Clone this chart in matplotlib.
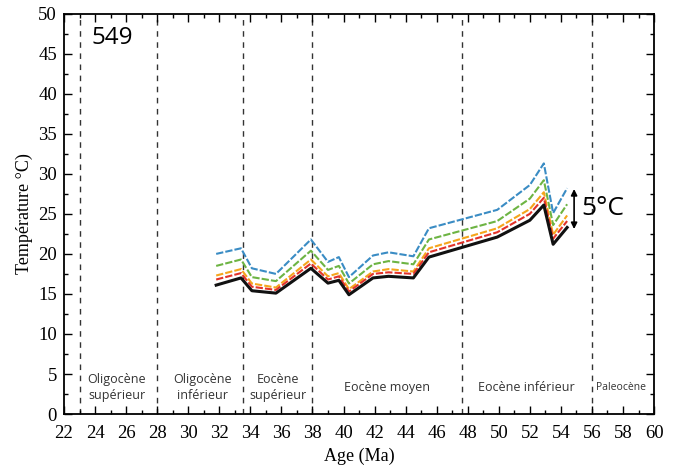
import matplotlib
matplotlib.use("Agg")
import matplotlib.pyplot as plt
from matplotlib.ticker import MultipleLocator

ages = [31.8, 33.4, 34.1, 35.65, 37.9, 39.0, 39.7, 40.35, 41.9, 42.9, 44.5, 45.5, 49.9, 52.0, 52.9, 53.5, 54.4]
t_blue = [20.0, 20.7, 18.2, 17.5, 21.8, 19.0, 19.6, 17.1, 19.8, 20.2, 19.7, 23.2, 25.5, 28.6, 31.3, 25.1, 28.2]
t_green = [18.5, 19.3, 17.1, 16.6, 20.4, 18.0, 18.5, 16.3, 18.7, 19.1, 18.7, 21.8, 24.1, 26.9, 29.2, 23.6, 26.2]
t_orange = [17.3, 18.1, 16.3, 15.8, 19.3, 17.2, 17.6, 15.6, 17.8, 18.1, 17.8, 20.7, 23.2, 25.6, 27.7, 22.4, 24.8]
t_red = [16.8, 17.6, 15.9, 15.5, 18.8, 16.8, 17.2, 15.3, 17.5, 17.7, 17.5, 20.2, 22.7, 25.0, 27.0, 21.9, 24.1]
t_black = [16.1, 17.0, 15.4, 15.1, 18.2, 16.35, 16.7, 14.9, 17.0, 17.2, 17.0, 19.6, 22.1, 24.2, 26.1, 21.2, 23.3]

boundaries = [23.0, 28.0, 33.5, 38.0, 47.6, 56.0]
period_labels = ["Oligocène\nsupérieur", "Oligocène\ninférieur", "Eocène\nsupérieur",
                 "Eocène moyen", "Eocène inférieur", "Paleocène"]
period_x = [25.4, 30.9, 35.8, 42.8, 51.8, 57.9]

serif = "Liberation Serif"
sans = "Open Sans"

fig = plt.figure(figsize=(6.75, 4.7), dpi=100)
ax = fig.add_axes([0.0948, 0.119, 0.8742, 0.852])

for b in boundaries:
    ax.axvline(b, color="#333333", lw=1.0, ls=(0, (4, 4)), zorder=1)

ax.plot(ages, t_blue, color="#3a8cc4", lw=1.5, ls=(0, (3.5, 1)), zorder=3)
ax.plot(ages, t_green, color="#6db443", lw=1.5, ls=(0, (3.5, 1)), zorder=3)
ax.plot(ages, t_orange, color="#f5a51c", lw=1.5, ls=(0, (3.5, 1)), zorder=3)
ax.plot(ages, t_red, color="#e2332a", lw=1.5, ls=(0, (3.5, 1)), zorder=3)
ax.plot(ages, t_black, color="#111111", lw=2.2, zorder=4)

ax.set_xlim(22, 60)
ax.set_ylim(0, 50)
ax.xaxis.set_major_locator(MultipleLocator(2))
ax.xaxis.set_minor_locator(MultipleLocator(1))
ax.yaxis.set_major_locator(MultipleLocator(5))
ax.yaxis.set_minor_locator(MultipleLocator(2.5))
ax.tick_params(which="both", direction="in", top=True, right=True, width=1.0)
ax.tick_params(which="major", length=6, labelsize=13.5)
ax.tick_params(axis="x", which="major", pad=8)
ax.tick_params(axis="y", which="major", pad=5)
ax.tick_params(which="minor", length=3)
for lab in ax.get_xticklabels() + ax.get_yticklabels():
    lab.set_family(serif)
for s in ax.spines.values():
    s.set_linewidth(1.3)

ax.set_xlabel("Age (Ma)", family=serif, fontsize=13, labelpad=4)
ax.set_ylabel("Température °C)", family=serif, fontsize=13, labelpad=4)

ax.text(23.8, 46.9, "549", family=sans, fontsize=17.5, ha="left", va="center")

for lab, x in zip(period_labels, period_x):
    fs = 7.5 if lab == "Paleocène" else 9
    ax.text(x, 3.3, lab, family=sans, fontsize=fs, ha="center", va="center",
            color="#333333", linespacing=1.3)

ax.annotate("", xy=(54.85, 23.1), xytext=(54.85, 28.1),
            arrowprops=dict(arrowstyle="<|-|>", color="black", lw=1.2,
                            mutation_scale=9, shrinkA=0, shrinkB=0))
ax.text(55.3, 25.7, "5°C", family=sans, fontsize=19, ha="left", va="center")

fig.savefig("out.png", dpi=100)
